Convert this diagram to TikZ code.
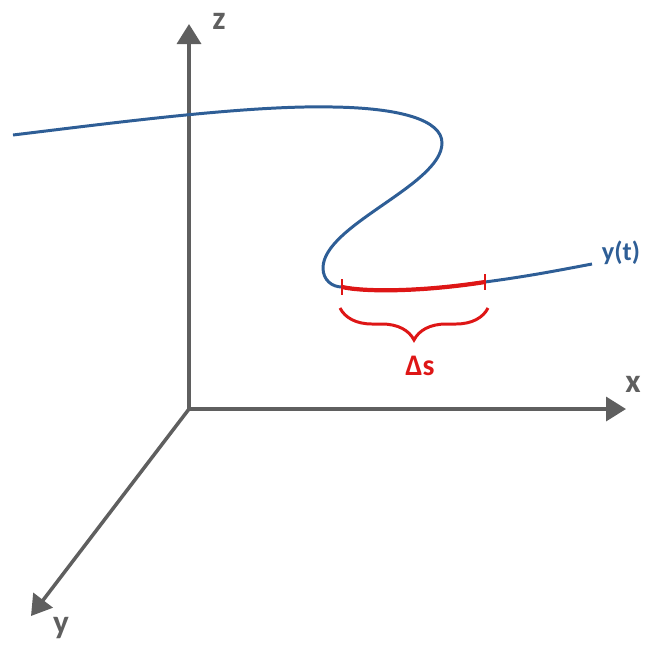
\documentclass[tikz,border=0pt]{standalone}
\usepackage{fontspec}
\setmainfont{Carlito}
\usetikzlibrary{arrows.meta,decorations.pathreplacing}
\definecolor{axisgray}{RGB}{95,95,95}
\definecolor{curveblue}{RGB}{46,94,150}
\definecolor{arcred}{RGB}{222,22,22}
\begin{document}
\begin{tikzpicture}[x=0.02cm,y=-0.02cm,
    axis/.style={axisgray,line width=2pt,-{Triangle[width=0.48cm,length=0.4cm]}},
    axislabel/.style={axisgray,font=\fontsize{19}{19}\selectfont\bfseries}]
  \useasboundingbox (0,0) rectangle (649,647);
  % axes
  \coordinate (O) at (189,409);
  \coordinate (zend) at (189,24);
  \coordinate (xend) at (626,409);
  \coordinate (yend) at (31,616);
  \draw[axis] (O) -- (zend);
  \draw[axis] (O) -- (xend);
  \draw[axis] (O) -- (yend);
  \node[axislabel] (zlab) at (219,21) {z};
  \node[axislabel] (xlab) at (633,384) {x};
  \node[axislabel] (ylab) at (61,628) {y};
  % the curve y(t)
  \coordinate (sA) at (342,287);
  \coordinate (sB) at (485,282);
  \draw[curveblue,line width=1.7pt]
    (13,135) .. controls (120,122) and (250,105) .. (333,107)
    .. controls (400,108) and (442,120) .. (442,143)
    .. controls (442,185) and (323,225) .. (323,268)
    .. controls (323,280) and (332,287) .. (sA)
    .. controls (365,292) and (420,292) .. (sB)
    .. controls (530,276) and (560,270) .. (592,264);
  \node[curveblue,font=\fontsize{15}{15}\selectfont\bfseries] (ylabel) at (621,253) {y(t)};
  % the arc length piece
  \draw[arcred,line width=2.4pt]
    (sA) .. controls (365,292) and (420,292) .. (sB);
  \draw[arcred,line width=1pt] (sA) ++(0,-8) -- ++(0,16);
  \draw[arcred,line width=1pt] (sB) ++(0,-8) -- ++(0,16);
  \coordinate (bl) at (340,308);
  \coordinate (br) at (488,308);
  \draw[arcred,line width=1.7pt,decorate,decoration={brace,mirror,amplitude=0.64cm}]
    (bl) -- (br);
  \node[arcred,font=\fontsize{17}{17}\selectfont\bfseries] (ds) at (420,366) {Δs};
\end{tikzpicture}
\end{document}
